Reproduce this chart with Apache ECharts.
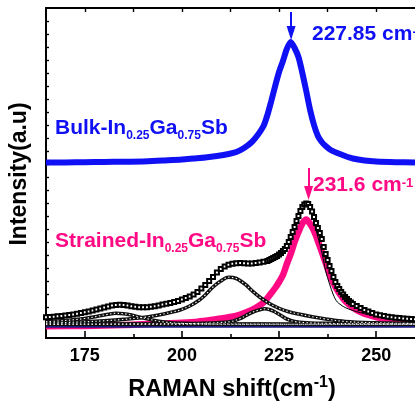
<!DOCTYPE html>
<html><head><meta charset="utf-8">
<script src="https://cdn.jsdelivr.net/npm/echarts@6/dist/echarts.min.js"></script>
<style>html,body{margin:0;padding:0;background:#fff}#c{width:415px;height:403px}</style>
</head><body><div id="c"></div>
<script>
// ---- axis ticks ----
const xTickLabels = [175, 200, 225, 250];
const xMinorTicks = [187.5, 212.5, 237.5];
const xTopTicks = [175, 187.5, 200, 212.5, 225, 237.5, 250];
const yTicks = [18, 31, 44, 57, 70, 83, 96, 109, 122, 135, 148, 161, 174, 187, 200, 213, 226, 239, 252, 265, 278, 291, 304, 317];

// ---- Bulk In0.25Ga0.75Sb spectrum ----
const bulkX = [165,170,175,180,185,190,195,200,203,206,209,212,214,216,218,219.5,221,222,223,224,225,226,227,228,229,230,231,232,233,234,235,236,237,238.3,240,242,244,247,250,255,260];
const bulkY = [175.5,175.6,175.8,176,176.3,176.5,177.5,178.5,179.5,180.5,182,184,186,190,196,203,212,223,237,252,266,277,289,296,290,281,265,247,228,213,202,196,192,188,185,182,179.5,177.5,176.5,175.8,175.5];

// ---- Strained: measured data (open squares) ----
const dataX = [165,166,167,168,169,170,171,172,173,174,175,176,177,178,179,180,181,182,183,184,185,186,187,188,189,190,191,192,193,194,195,196,197,198,199,200,201,202,203,204,205,206,207,208,209,210,211,212,213,214,215,216,217,218,219,220,221,222,222.5,223,223.5,224,224.5,225,225.5,226,226.5,227,227.5,228,228.5,229,229.5,230,230.5,231,231.5,232,232.5,233,233.5,234,234.5,235,235.5,236,236.5,237,237.5,238,238.5,239,239.5,240,240.5,241,241.5,242,242.5,243,243.5,244,245,246,247,248,249,250,251,252,253,254,255,256,257,258,259,260];
const dataY = [20.7,21,21.3,21.7,22,22.5,23,23.5,24.3,25,25.8,26.6,27.5,28.5,29.5,30.5,31.5,32.5,33,33.2,33,32.5,31.8,31.2,30.8,30.7,30.8,31.2,31.8,32.6,33.5,34.3,35,36,37,38.5,40,41.5,43.5,46,49.5,53,57,61,65.5,69,71.5,73.3,74.3,74.8,75,74.8,74.5,74.5,75,75.5,76.2,77,78,79,80,81,82,83.5,85,87,89,92,96,101,106,111,117,122,127,131,133.5,134.5,134,131,126.5,121,115,110,105,99,91,84,78,72,67,61,56,52,49,46,43.5,41,39,37,35.5,34,32,30,28,26.5,25,23.5,22.7,22,21.3,20.8,20.3,19.9,19.5,19.2,18.9,18.7];

// ---- Strained: cumulative fit (thin line) ----
const fitX = [165,170,175,180,183,186,190,195,200,204,207,210,213,216,219,222,225,227,228,229,230,231,232,233,234,235,236,237,238,239,240,242,244,246,250,255,260];
const fitY = [20.7,22.5,25.8,30.5,33,32.5,30.7,33.5,38.5,46,57,69,74.3,74.8,75,77,83.5,92,101,111,122,131,134.5,129,116,101,86,67,54,43,36,30.5,27.5,25.3,21.8,19.8,18.5];

// ---- Strained: main component 231.6 (pink) ----
const peakDX = [165,175,185,190,195,200,204,208,212,215,218,220,221.5,223,224,225,226,227,228,229,230,231,232,233,234,235,236,237,238,239,240,241,242,244,246,248,251,255,260];
const peakDY = [11.8,12.1,13,13.8,14.6,15.3,16.3,18.3,20.7,23.5,28,32.5,37.5,45,50,56,63,74,84,96,106,114.5,118.5,114,107,97,86,75,64,55,48,42,37,30.5,26,23,20,17.5,15.5];

// ---- Strained: other components ----
const peakAX = [165,170,175,178,181,183,185,187,189,191,193,195,198,202,210,230,260];
const peakAY = [16.3,17.5,19.5,21.5,23.7,24.7,24.3,23,21,19.3,17.5,16.2,15,14.4,14,13.8,13.7];
const peakBX = [165,170,175,180,185,190,194,197,199.5,202,204.5,206,208,210,212,214,216.5,218,220,222.5,225,227.5,230,233.5,237,242,250,260];
const peakBY = [15,15.5,16.2,17.2,18.6,20.5,23,25.5,28,32,38,43,51,57,60.7,59.5,53,47.5,41,34.5,29.7,26.3,24,21.3,19,16.5,15.2,14.5];
const peakCX = [165,195,205,210,213,215,216.5,218,220,221.3,222.5,224,225.5,227,229,232,238,248,260];
const peakCY = [13.9,14.2,14.7,15.5,16.8,19.5,22.5,25.5,28.2,29.3,28.5,26,22.5,19,16.5,15.3,14.6,14.2,14];

// ---- baselines ----
const baseX = [165, 260];
const chainBaseY = [13.7, 13.7];
const navyBaseY = [11.3, 11.3];

// ---- annotations ----
const bulkArrowX = 228.1, bulkArrowFrom = 326, bulkArrowTip = 298;
const strainedArrowX = 232.6, strainedArrowFrom = 170, strainedArrowTip = 138;

const zip = (xs, ys) => xs.map((x, i) => [x, ys[i]]);
const FONT = '"Liberation Sans", Arial, sans-serif';
const BLUE = '#1010f5', PINK = '#ff0a84';

function chain(xs, ys, z) {
  return [
    {type: 'line', data: zip(xs, ys), showSymbol: false, smooth: 0.35, z: z,
     lineStyle: {color: '#111', width: 3.6}, silent: true},
    {type: 'line', data: zip(xs, ys), showSymbol: false, smooth: 0.35, z: z + 0.1,
     lineStyle: {color: '#fff', width: 1.1, type: [1.4, 2.4]}, silent: true}
  ];
}
// arrow: shaft via markLine, head via markPoint (triangle pointing down, 14 px long)
function arrow(x, from, tip, color) {
  return {
    markLine: {silent: true, symbol: ['none', 'none'], animation: false,
      lineStyle: {color: color, width: 2, type: 'solid'}, label: {show: false},
      data: [[{coord: [x, from]}, {coord: [x, tip + 8]}]]},
    markPoint: {silent: true, animation: false, label: {show: false},
      data: [{coord: [x, tip + 7], symbol: 'triangle', symbolRotate: 180, symbolSize: [9, 14],
              itemStyle: {color: color}}]}
  };
}

const chart = echarts.init(document.getElementById('c'), null, {renderer: 'canvas'});
const option = {
  animation: false,
  backgroundColor: '#fff',
  grid: {left: 46, top: 8, width: 370, height: 330},
  xAxis: [
    {type: 'value', min: 165, max: 260, position: 'bottom',
     axisLine: {show: true, lineStyle: {color: '#000', width: 2}},
     axisTick: {show: true, inside: true, length: 7, lineStyle: {color: '#000', width: 1.6}, customValues: xTickLabels},
     axisLabel: {show: true, customValues: xTickLabels, color: '#000', fontWeight: 'bold', fontSize: 18, fontFamily: FONT, margin: 9},
     splitLine: {show: false}},
    {type: 'value', min: 165, max: 260, position: 'bottom',
     axisLine: {show: false},
     axisTick: {show: true, inside: true, length: 4, lineStyle: {color: '#000', width: 1.6}, customValues: xMinorTicks},
     axisLabel: {show: false}, splitLine: {show: false}},
    {type: 'value', min: 165, max: 260, position: 'top',
     axisLine: {show: true, lineStyle: {color: '#000', width: 2}},
     axisTick: {show: true, inside: true, length: 4, lineStyle: {color: '#000', width: 1.4}, customValues: xTopTicks},
     axisLabel: {show: false}, splitLine: {show: false}}
  ],
  yAxis: {type: 'value', min: 0, max: 330, position: 'left',
    axisLine: {show: true, lineStyle: {color: '#000', width: 2}},
    axisTick: {show: true, inside: true, length: 3, lineStyle: {color: '#000', width: 1.4}, customValues: yTicks},
    axisLabel: {show: false}, splitLine: {show: false}},
  series: [
    Object.assign({type: 'line', data: zip(peakDX, peakDY), showSymbol: false, smooth: 0.3, z: 1,
     lineStyle: {color: PINK, width: 6.5}}, arrow(strainedArrowX, strainedArrowFrom, strainedArrowTip, PINK)),
    {type: 'line', data: zip(baseX, navyBaseY), showSymbol: false, z: 2, lineStyle: {color: '#1a1a7a', width: 2}},
    ...chain(baseX, chainBaseY, 3),
    ...chain(peakAX, peakAY, 3),
    ...chain(peakBX, peakBY, 3),
    ...chain(peakCX, peakCY, 3),
    {type: 'line', data: zip(fitX, fitY), showSymbol: false, smooth: 0.3, z: 5,
     lineStyle: {color: '#000', width: 1}},
    {type: 'line', data: zip(dataX, dataY), symbol: 'emptyRect', symbolSize: 4, showSymbol: true, z: 6,
     itemStyle: {color: '#000', borderWidth: 0.9}, lineStyle: {width: 0, opacity: 0}},
    Object.assign({type: 'line', data: zip(bulkX, bulkY), showSymbol: false, smooth: 0.25, z: 7,
     lineStyle: {color: BLUE, width: 6}}, arrow(bulkArrowX, bulkArrowFrom, bulkArrowTip, BLUE))
  ],
  graphic: [
    {type: 'text', x: 20, y: 174, rotation: Math.PI / 2,
     style: {text: 'Intensity(a.u)', fill: '#000', font: 'bold 23px ' + FONT, align: 'center', verticalAlign: 'middle'}},
    {type: 'text', x: 232, y: 375,
     style: {text: '{a|RAMAN shift(cm}{s|-1}{a|)}', align: 'center', verticalAlign: 'top',
       rich: {a: {fontSize: 23.5, fontWeight: 'bold', fontFamily: FONT, fill: '#000', lineHeight: 27, verticalAlign: 'bottom'},
              s: {fontSize: 16, fontWeight: 'bold', fontFamily: FONT, fill: '#000', lineHeight: 16, verticalAlign: 'top'}}}},
    {type: 'text', x: 55, y: 118,
     style: {text: '{a|Bulk-In}{s|0.25}{a|Ga}{s|0.75}{a|Sb}', align: 'left', verticalAlign: 'top',
       rich: {a: {fontSize: 21, fontWeight: 'bold', fontFamily: FONT, fill: BLUE, lineHeight: 22, verticalAlign: 'top'},
              s: {fontSize: 12, fontWeight: 'bold', fontFamily: FONT, fill: BLUE, lineHeight: 12, verticalAlign: 'top', padding: [12, 0, 0, 0]}}}},
    {type: 'text', x: 55, y: 231,
     style: {text: '{a|Strained-In}{s|0.25}{a|Ga}{s|0.75}{a|Sb}', align: 'left', verticalAlign: 'top',
       rich: {a: {fontSize: 21, fontWeight: 'bold', fontFamily: FONT, fill: PINK, lineHeight: 22, verticalAlign: 'top'},
              s: {fontSize: 12, fontWeight: 'bold', fontFamily: FONT, fill: PINK, lineHeight: 12, verticalAlign: 'top', padding: [12, 0, 0, 0]}}}},
    {type: 'text', x: 312, y: 24,
     style: {text: '{a|227.85 cm}{s|-1}', align: 'left', verticalAlign: 'top',
       rich: {a: {fontSize: 21, fontWeight: 'bold', fontFamily: FONT, fill: BLUE, lineHeight: 22, verticalAlign: 'top'},
              s: {fontSize: 13, fontWeight: 'bold', fontFamily: FONT, fill: BLUE, lineHeight: 13, verticalAlign: 'top', padding: [2, 0, 0, 0]}}}},
    {type: 'text', x: 313, y: 175,
     style: {text: '{a|231.6 cm}{s|-1}', align: 'left', verticalAlign: 'top',
       rich: {a: {fontSize: 21, fontWeight: 'bold', fontFamily: FONT, fill: PINK, lineHeight: 22, verticalAlign: 'top'},
              s: {fontSize: 13, fontWeight: 'bold', fontFamily: FONT, fill: PINK, lineHeight: 13, verticalAlign: 'top', padding: [2, 0, 0, 0]}}}}
  ]
};
chart.setOption(option);
</script></body></html>
